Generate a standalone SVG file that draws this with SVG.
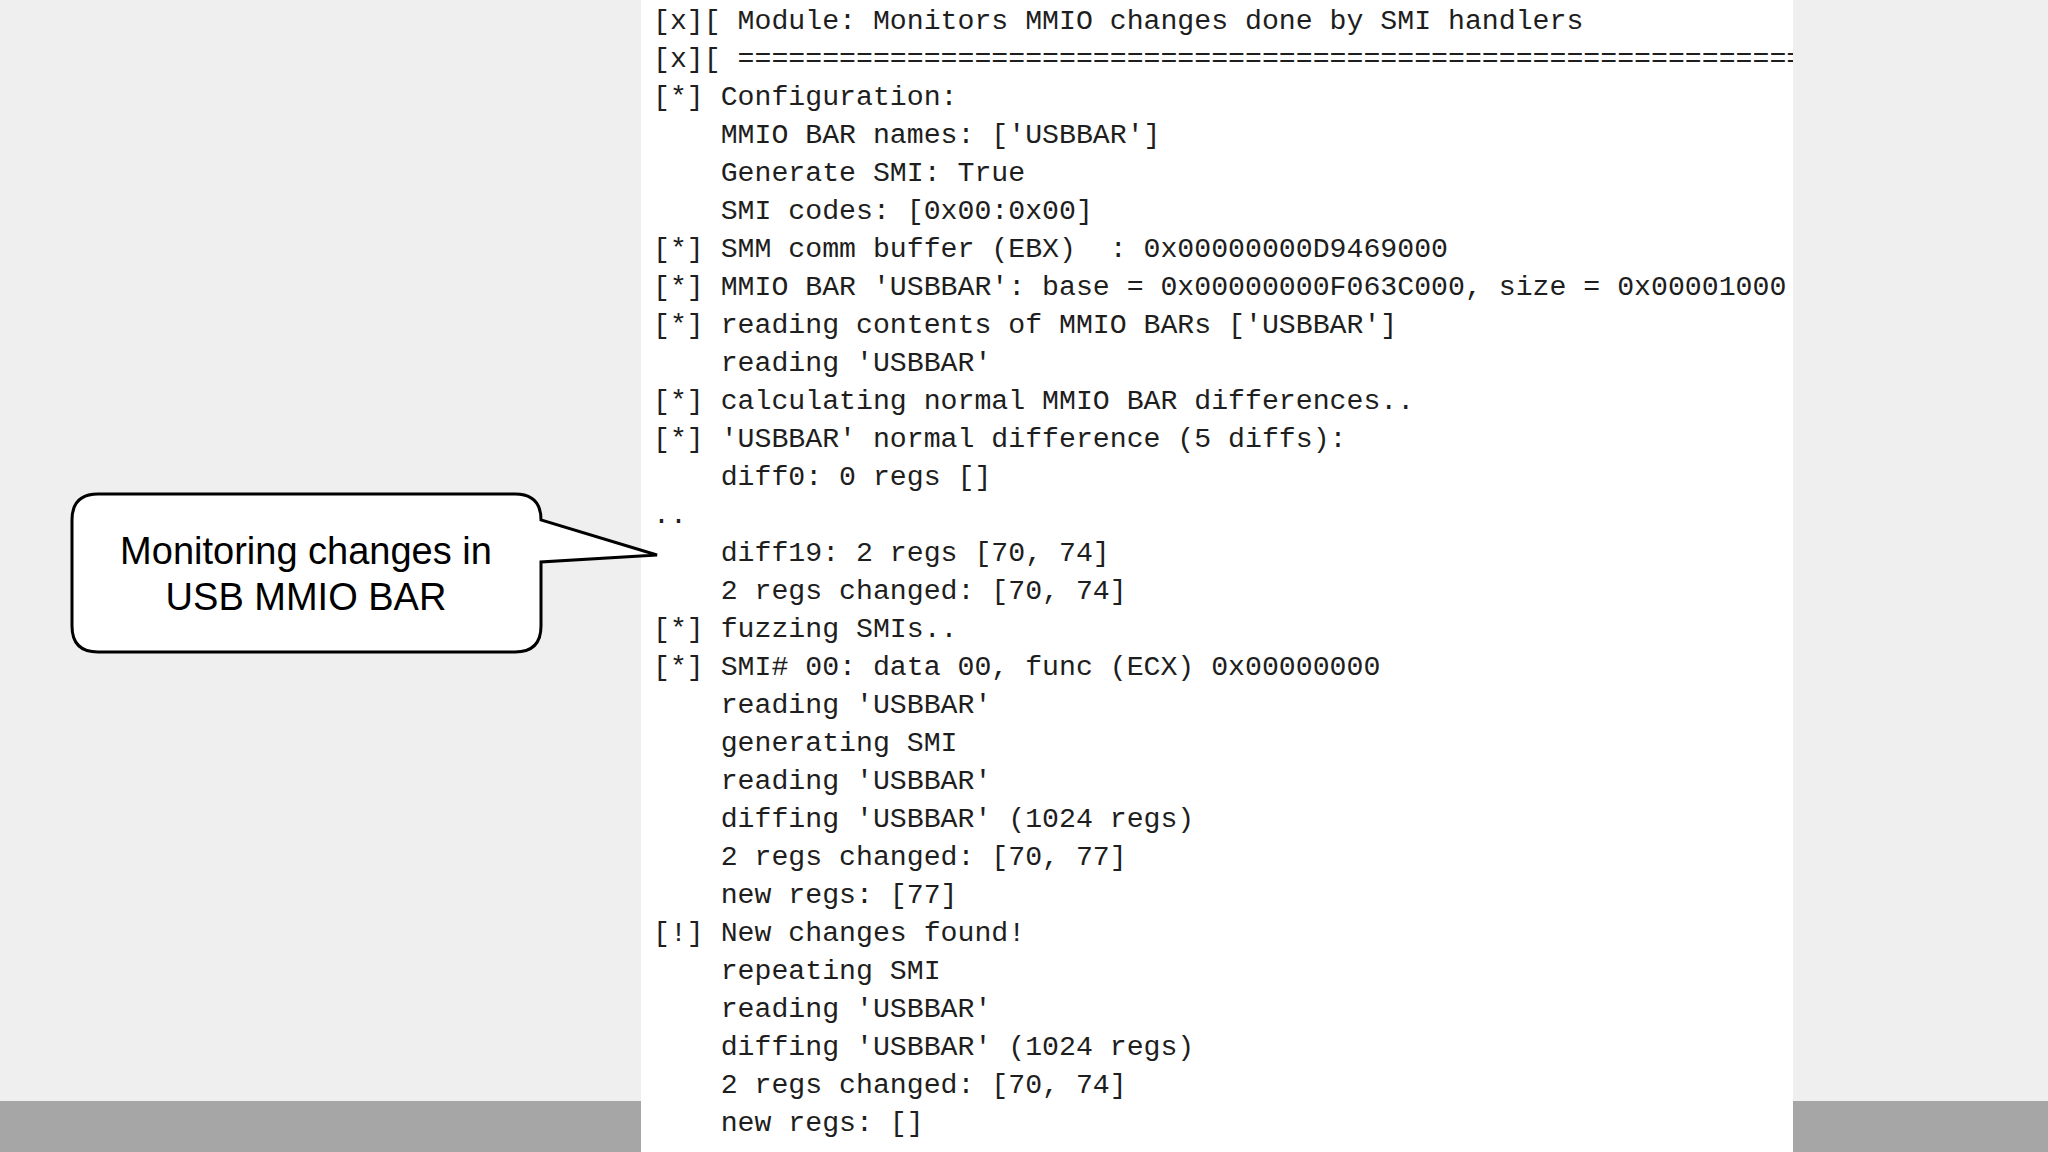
<svg xmlns="http://www.w3.org/2000/svg" width="2048" height="1152" viewBox="0 0 2048 1152">
<style>
.m{font-family:"Liberation Mono","DejaVu Sans Mono",monospace;font-size:28.2px;fill:#1e1e1e;white-space:pre}
.c{font-family:"Liberation Sans",Arial,sans-serif;font-size:38px;fill:#000;text-anchor:middle}
</style>
<defs><clipPath id="pc"><rect x="641" y="0" width="1152" height="1152"/></clipPath></defs>
<rect width="2048" height="1152" fill="#efefef"/>
<rect x="0" y="1101" width="2048" height="51" fill="#a6a6a6"/>
<rect x="641" y="0" width="1152" height="1152" fill="#fff"/>
<g id="console" clip-path="url(#pc)">
<text class="m" x="653" y="29">[x][ Module: Monitors MMIO changes done by SMI handlers</text>
<text class="m" x="653" y="67">[x][ ======================================================================</text>
<text class="m" x="653" y="105">[*] Configuration:</text>
<text class="m" x="653" y="143">    MMIO BAR names: ['USBBAR']</text>
<text class="m" x="653" y="181">    Generate SMI: True</text>
<text class="m" x="653" y="219">    SMI codes: [0x00:0x00]</text>
<text class="m" x="653" y="257">[*] SMM comm buffer (EBX)  : 0x00000000D9469000</text>
<text class="m" x="653" y="295">[*] MMIO BAR 'USBBAR': base = 0x00000000F063C000, size = 0x00001000</text>
<text class="m" x="653" y="333">[*] reading contents of MMIO BARs ['USBBAR']</text>
<text class="m" x="653" y="371">    reading 'USBBAR'</text>
<text class="m" x="653" y="409">[*] calculating normal MMIO BAR differences..</text>
<text class="m" x="653" y="447">[*] 'USBBAR' normal difference (5 diffs):</text>
<text class="m" x="653" y="485">    diff0: 0 regs []</text>
<text class="m" x="653" y="523">..</text>
<text class="m" x="653" y="561">    diff19: 2 regs [70, 74]</text>
<text class="m" x="653" y="599">    2 regs changed: [70, 74]</text>
<text class="m" x="653" y="637">[*] fuzzing SMIs..</text>
<text class="m" x="653" y="675">[*] SMI# 00: data 00, func (ECX) 0x00000000</text>
<text class="m" x="653" y="713">    reading 'USBBAR'</text>
<text class="m" x="653" y="751">    generating SMI</text>
<text class="m" x="653" y="789">    reading 'USBBAR'</text>
<text class="m" x="653" y="827">    diffing 'USBBAR' (1024 regs)</text>
<text class="m" x="653" y="865">    2 regs changed: [70, 77]</text>
<text class="m" x="653" y="903">    new regs: [77]</text>
<text class="m" x="653" y="941">[!] New changes found!</text>
<text class="m" x="653" y="979">    repeating SMI</text>
<text class="m" x="653" y="1017">    reading 'USBBAR'</text>
<text class="m" x="653" y="1055">    diffing 'USBBAR' (1024 regs)</text>
<text class="m" x="653" y="1093">    2 regs changed: [70, 74]</text>
<text class="m" x="653" y="1131">    new regs: []</text>
</g>
<g id="callout">
<path d="M98,494 H515 Q541,494 541,520 L657,555 L541,562 V626 Q541,652 515,652 H98 Q72,652 72,626 V520 Q72,494 98,494 Z" fill="#fff" stroke="#000" stroke-width="3"/>
<text class="c" x="306" y="564">Monitoring changes in</text>
<text class="c" x="306" y="610">USB MMIO BAR</text>
</g>
</svg>
